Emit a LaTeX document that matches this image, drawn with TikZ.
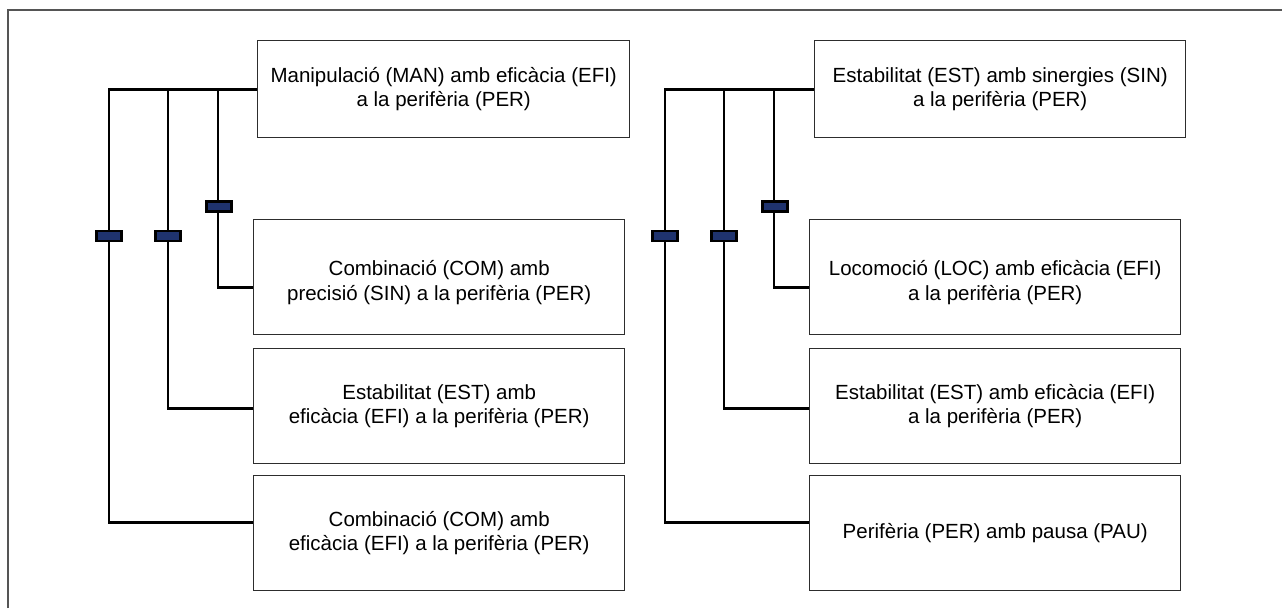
\documentclass[tikz,border=0pt]{standalone}
\usepackage{fontspec}
\setmainfont{Liberation Sans}
\usetikzlibrary{calc}
\definecolor{navy}{RGB}{31,51,110}
\definecolor{frame}{RGB}{85,85,85}
\definecolor{boxline}{RGB}{45,45,45}
\newcommand{\lowtwo}[2]{\raisebox{-6pt}[\height][\depth]{\begin{tabular}{@{}c@{}}#1\\#2\end{tabular}}}
\begin{document}
\begin{tikzpicture}[x=1pt,y=-1pt,
  box/.style={draw=boxline,line width=1.4pt,rectangle,anchor=north west,inner sep=0pt,
    align=center,font=\fontsize{20.5}{24.5}\selectfont},
  topbox/.style={box,minimum width=372pt,minimum height=97pt},
  subbox/.style={box,minimum width=371pt,minimum height=115pt},
  conn/.style={line width=2.8pt,black},
  marker/.style={draw=black,fill=navy,line width=2.6pt,rectangle,minimum width=25pt,minimum height=10pt,inner sep=0pt}]
\useasboundingbox (0,0) rectangle (1282,608);
\draw[frame,line width=1.3pt] (8,608) -- (8,10) -- (1282,10);
% left group
\node[topbox] (LT) at (257,40) {Manipulació (MAN) amb eficàcia (EFI)\\a la perifèria (PER)};
\node[subbox] (LA) at (253,219) {\lowtwo{Combinació (COM) amb}{precisió (SIN) a la perifèria (PER)}};
\node[subbox] (LB) at (253,348) {Estabilitat (EST) amb\\eficàcia (EFI) a la perifèria (PER)};
\node[subbox] (LC) at (253,475) {Combinació (COM) amb\\eficàcia (EFI) a la perifèria (PER)};
% right group
\node[topbox,minimum width=371pt] (RT) at (814,40) {Estabilitat (EST) amb sinergies (SIN)\\a la perifèria (PER)};
\node[subbox] (RA) at (809,219) {\lowtwo{Locomoció (LOC) amb eficàcia (EFI)}{a la perifèria (PER)}};
\node[subbox] (RB) at (809,348) {Estabilitat (EST) amb eficàcia (EFI)\\a la perifèria (PER)};
\node[subbox] (RC) at (809,475) {Perifèria (PER) amb pausa (PAU)};
% anchor points on box edges
\coordinate (aLA) at ([yshift=-10.5pt]LA.west);
\coordinate (aLB) at ([yshift=-2pt]LB.west);
\coordinate (aLC) at ([yshift=11pt]LC.west);
\coordinate (aRA) at ([yshift=-10.5pt]RA.west);
\coordinate (aRB) at ([yshift=-2pt]RB.west);
\coordinate (aRC) at ([yshift=11pt]RC.west);
\coordinate (xL1) at (109,0);
\coordinate (xL2) at (168,0);
\coordinate (xL3) at (218,0);
\coordinate (xR1) at (665,0);
\coordinate (xR2) at (724,0);
\coordinate (xR3) at (774,0);
% connectors
\draw[conn] (LT.west) -| (xL1 |- aLC) -- (aLC);
\draw[conn] (xL2 |- LT.west) -- (xL2 |- aLB) -- (aLB);
\draw[conn] (xL3 |- LT.west) -- (xL3 |- aLA) -- (aLA);
\draw[conn] (RT.west) -| (xR1 |- aRC) -- (aRC);
\draw[conn] (xR2 |- RT.west) -- (xR2 |- aRB) -- (aRB);
\draw[conn] (xR3 |- RT.west) -- (xR3 |- aRA) -- (aRA);
% markers
\node[marker] (mL1) at (109,236) {};
\node[marker] (mL2) at (168,236) {};
\node[marker] (mL3) at (219,206.5) {};
\node[marker] (mR1) at (665,236) {};
\node[marker] (mR2) at (724,236) {};
\node[marker] (mR3) at (775,206.5) {};
\end{tikzpicture}
\end{document}
